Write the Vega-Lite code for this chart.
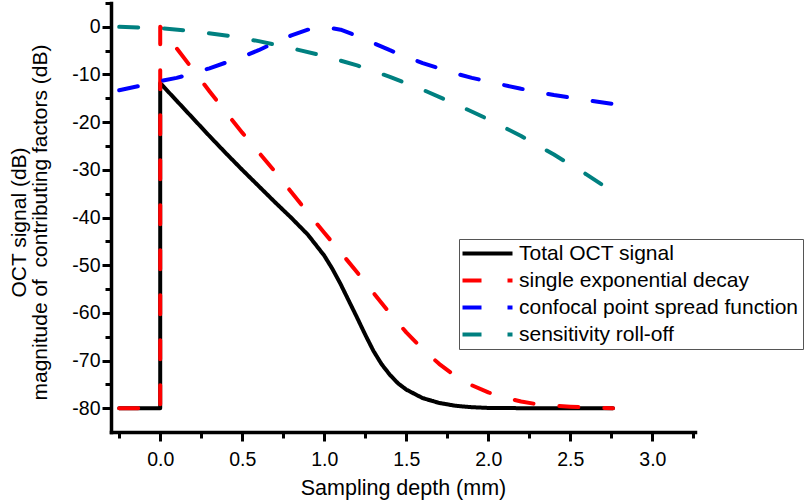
{
  "$schema": "https://vega.github.io/schema/vega-lite/v6.json",
  "width": 584,
  "height": 429,
  "autosize": {"type": "none"},
  "padding": {"left": 111, "top": 3, "right": 110, "bottom": 70},
  "background": "white",
  "config": {
    "view": {"stroke": null},
    "font": "Liberation Sans",
    "axis": {"grid": false, "domainColor": "#000000", "domainWidth": 3, "tickColor": "#000000", "tickWidth": 3, "labelColor": "#000000", "titleColor": "#000000", "labelFont": "Liberation Sans", "titleFont": "Liberation Sans", "titleFontWeight": "normal"}
  },
  "datasets": {
    "curves": [
      {"s": "Total OCT signal", "x": -0.25, "y": -80},
      {"s": "Total OCT signal", "x": 0, "y": -80},
      {"s": "Total OCT signal", "x": 0, "y": -11.8},
      {"s": "Total OCT signal", "x": 0.1, "y": -15.5},
      {"s": "Total OCT signal", "x": 0.2, "y": -19.2},
      {"s": "Total OCT signal", "x": 0.3, "y": -22.9},
      {"s": "Total OCT signal", "x": 0.4, "y": -26.5},
      {"s": "Total OCT signal", "x": 0.5, "y": -30.0},
      {"s": "Total OCT signal", "x": 0.6, "y": -33.4},
      {"s": "Total OCT signal", "x": 0.7, "y": -36.8},
      {"s": "Total OCT signal", "x": 0.8, "y": -40.1},
      {"s": "Total OCT signal", "x": 0.9, "y": -43.6},
      {"s": "Total OCT signal", "x": 1.0, "y": -48.0},
      {"s": "Total OCT signal", "x": 1.05, "y": -50.8},
      {"s": "Total OCT signal", "x": 1.1, "y": -54.0},
      {"s": "Total OCT signal", "x": 1.15, "y": -57.5},
      {"s": "Total OCT signal", "x": 1.2, "y": -61.0},
      {"s": "Total OCT signal", "x": 1.25, "y": -64.6},
      {"s": "Total OCT signal", "x": 1.3, "y": -68.0},
      {"s": "Total OCT signal", "x": 1.35, "y": -70.8},
      {"s": "Total OCT signal", "x": 1.4, "y": -73.0},
      {"s": "Total OCT signal", "x": 1.45, "y": -74.8},
      {"s": "Total OCT signal", "x": 1.5, "y": -76.1},
      {"s": "Total OCT signal", "x": 1.6, "y": -77.9},
      {"s": "Total OCT signal", "x": 1.7, "y": -78.9},
      {"s": "Total OCT signal", "x": 1.8, "y": -79.5},
      {"s": "Total OCT signal", "x": 1.9, "y": -79.8},
      {"s": "Total OCT signal", "x": 2.0, "y": -79.95},
      {"s": "Total OCT signal", "x": 2.2, "y": -80},
      {"s": "Total OCT signal", "x": 2.76, "y": -80},
      {"s": "single exponential decay", "x": -0.25, "y": -80},
      {"s": "single exponential decay", "x": 0, "y": -80},
      {"s": "single exponential decay", "x": 0, "y": 0},
      {"s": "single exponential decay", "x": 0.1, "y": -4.5},
      {"s": "single exponential decay", "x": 0.2, "y": -9.0},
      {"s": "single exponential decay", "x": 0.3, "y": -13.5},
      {"s": "single exponential decay", "x": 0.4, "y": -17.9},
      {"s": "single exponential decay", "x": 0.5, "y": -22.2},
      {"s": "single exponential decay", "x": 0.6, "y": -26.3},
      {"s": "single exponential decay", "x": 0.7, "y": -30.4},
      {"s": "single exponential decay", "x": 0.8, "y": -34.7},
      {"s": "single exponential decay", "x": 0.9, "y": -39.0},
      {"s": "single exponential decay", "x": 1.0, "y": -43.2},
      {"s": "single exponential decay", "x": 1.1, "y": -47.3},
      {"s": "single exponential decay", "x": 1.2, "y": -51.5},
      {"s": "single exponential decay", "x": 1.3, "y": -55.8},
      {"s": "single exponential decay", "x": 1.4, "y": -60.1},
      {"s": "single exponential decay", "x": 1.5, "y": -64.1},
      {"s": "single exponential decay", "x": 1.6, "y": -67.6},
      {"s": "single exponential decay", "x": 1.7, "y": -70.7},
      {"s": "single exponential decay", "x": 1.8, "y": -73.3},
      {"s": "single exponential decay", "x": 1.9, "y": -75.2},
      {"s": "single exponential decay", "x": 2.0, "y": -76.7},
      {"s": "single exponential decay", "x": 2.1, "y": -77.8},
      {"s": "single exponential decay", "x": 2.2, "y": -78.6},
      {"s": "single exponential decay", "x": 2.3, "y": -79.2},
      {"s": "single exponential decay", "x": 2.4, "y": -79.5},
      {"s": "single exponential decay", "x": 2.5, "y": -79.7},
      {"s": "single exponential decay", "x": 2.6, "y": -79.85},
      {"s": "single exponential decay", "x": 2.76, "y": -80},
      {"s": "confocal point spread function", "x": -0.25, "y": -13.3},
      {"s": "confocal point spread function", "x": -0.1, "y": -12.2},
      {"s": "confocal point spread function", "x": 0, "y": -11.4},
      {"s": "confocal point spread function", "x": 0.1, "y": -10.7},
      {"s": "confocal point spread function", "x": 0.2, "y": -9.8},
      {"s": "confocal point spread function", "x": 0.3, "y": -8.7},
      {"s": "confocal point spread function", "x": 0.4, "y": -7.5},
      {"s": "confocal point spread function", "x": 0.5, "y": -6.3},
      {"s": "confocal point spread function", "x": 0.6, "y": -4.9},
      {"s": "confocal point spread function", "x": 0.7, "y": -3.3},
      {"s": "confocal point spread function", "x": 0.8, "y": -1.8},
      {"s": "confocal point spread function", "x": 0.9, "y": -0.6},
      {"s": "confocal point spread function", "x": 1.0, "y": 0},
      {"s": "confocal point spread function", "x": 1.1, "y": -0.6},
      {"s": "confocal point spread function", "x": 1.2, "y": -1.9},
      {"s": "confocal point spread function", "x": 1.3, "y": -3.4},
      {"s": "confocal point spread function", "x": 1.4, "y": -4.9},
      {"s": "confocal point spread function", "x": 1.5, "y": -6.3},
      {"s": "confocal point spread function", "x": 1.6, "y": -7.6},
      {"s": "confocal point spread function", "x": 1.7, "y": -8.7},
      {"s": "confocal point spread function", "x": 1.8, "y": -9.8},
      {"s": "confocal point spread function", "x": 1.9, "y": -10.7},
      {"s": "confocal point spread function", "x": 2.0, "y": -11.5},
      {"s": "confocal point spread function", "x": 2.2, "y": -13.0},
      {"s": "confocal point spread function", "x": 2.4, "y": -14.3},
      {"s": "confocal point spread function", "x": 2.6, "y": -15.4},
      {"s": "confocal point spread function", "x": 2.76, "y": -16.2},
      {"s": "sensitivity roll-off", "x": -0.25, "y": 0},
      {"s": "sensitivity roll-off", "x": 0, "y": -0.3},
      {"s": "sensitivity roll-off", "x": 0.2, "y": -0.9},
      {"s": "sensitivity roll-off", "x": 0.4, "y": -1.8},
      {"s": "sensitivity roll-off", "x": 0.6, "y": -3.0},
      {"s": "sensitivity roll-off", "x": 0.8, "y": -4.5},
      {"s": "sensitivity roll-off", "x": 1.0, "y": -6.1},
      {"s": "sensitivity roll-off", "x": 1.2, "y": -8.1},
      {"s": "sensitivity roll-off", "x": 1.4, "y": -10.5},
      {"s": "sensitivity roll-off", "x": 1.6, "y": -13.2},
      {"s": "sensitivity roll-off", "x": 1.8, "y": -16.2},
      {"s": "sensitivity roll-off", "x": 2.0, "y": -19.4},
      {"s": "sensitivity roll-off", "x": 2.2, "y": -22.9},
      {"s": "sensitivity roll-off", "x": 2.4, "y": -26.8},
      {"s": "sensitivity roll-off", "x": 2.6, "y": -31.0},
      {"s": "sensitivity roll-off", "x": 2.76, "y": -34.6}
    ]
  },
  "data": {"name": "curves"},
  "layer": [
    {
      "mark": {"type": "line", "strokeWidth": 4, "strokeCap": "round", "strokeJoin": "round"},
      "encoding": {
        "x": {"field": "x", "type": "quantitative", "scale": {"domain": [-0.3, 3.26], "nice": false, "zero": false},
          "axis": {"orient": "bottom", "values": [0, 0.5, 1, 1.5, 2, 2.5, 3], "format": ".1f", "tickSize": 9, "tickWidth": 3, "domainWidth": 3.5, "domainColor": "#000000", "tickColor": "#000000", "labelFontSize": 19.5, "labelPadding": 9, "domainCap": "square",
            "title": "Sampling depth (mm)", "titleFontSize": 21.5, "titleBaseline": "alphabetic", "titleY": 62}},
        "y": {"field": "y", "type": "quantitative", "scale": {"domain": [-85, 5], "nice": false, "zero": false},
          "axis": {"orient": "left", "values": [0, -10, -20, -30, -40, -50, -60, -70, -80], "labelExpr": "'' + datum.value", "tickSize": 9, "tickWidth": 3, "domainWidth": 3.5, "domainColor": "#000000", "tickColor": "#000000", "labelFontSize": 19.5, "labelPadding": 2, "domainCap": "square",
            "title": ["OCT signal (dB)", "magnitude of\u00a0 contributing factors (dB)"], "titleFontSize": 21, "titleLineHeight": 21, "titleBaseline": "alphabetic", "titleAngle": 270, "titleAlign": "center", "titleX": -86, "titleY": 219}},
        "color": {"field": "s", "type": "nominal",
          "scale": {"domain": ["Total OCT signal", "single exponential decay", "confocal point spread function", "sensitivity roll-off"], "range": ["#000000", "#ff0000", "#0000ff", "#008080"]},
          "legend": {"title": null, "orient": "none", "legendX": 348, "legendY": 236, "symbolType": "M-5,0H5", "symbolSize": 100, "symbolStrokeWidth": 4, "symbolOffset": 14, "labelOffset": 21, "labelFontSize": 21, "labelFont": "Liberation Sans", "labelColor": "#000000", "labelLimit": 400, "rowPadding": 5, "padding": 4, "strokeColor": "#555555"}},
        "strokeDash": {"field": "s", "type": "nominal",
          "scale": {"domain": ["Total OCT signal", "single exponential decay", "confocal point spread function", "sensitivity roll-off"], "range": [[1, 0], [19, 26], [19, 26], [19, 26]]},
          "legend": {"title": null, "orient": "none", "legendX": 348, "legendY": 236, "symbolType": "M-5,0H5", "symbolSize": 100, "symbolStrokeWidth": 4, "symbolOffset": 14, "labelOffset": 21, "labelFontSize": 21, "labelFont": "Liberation Sans", "labelColor": "#000000", "labelLimit": 400, "rowPadding": 5, "padding": 4, "strokeColor": "#555555"}}
      }
    },
    {
      "mark": {"type": "point", "opacity": 0},
      "encoding": {
        "x": {"field": "x", "type": "quantitative",
          "axis": {"orient": "bottom", "values": [-0.25, 0.25, 0.75, 1.25, 1.75, 2.25, 2.75, 3.25], "tickSize": 6, "tickWidth": 3, "tickColor": "#000000", "labels": false, "domain": false, "title": null}},
        "y": {"field": "y", "type": "quantitative",
          "axis": {"orient": "left", "values": [5, -5, -15, -25, -35, -45, -55, -65, -75], "tickSize": 6, "tickWidth": 3, "tickColor": "#000000", "labels": false, "domain": false, "title": null}}
      }
    }
  ],
  "resolve": {"axis": {"x": "independent", "y": "independent"}}
}
